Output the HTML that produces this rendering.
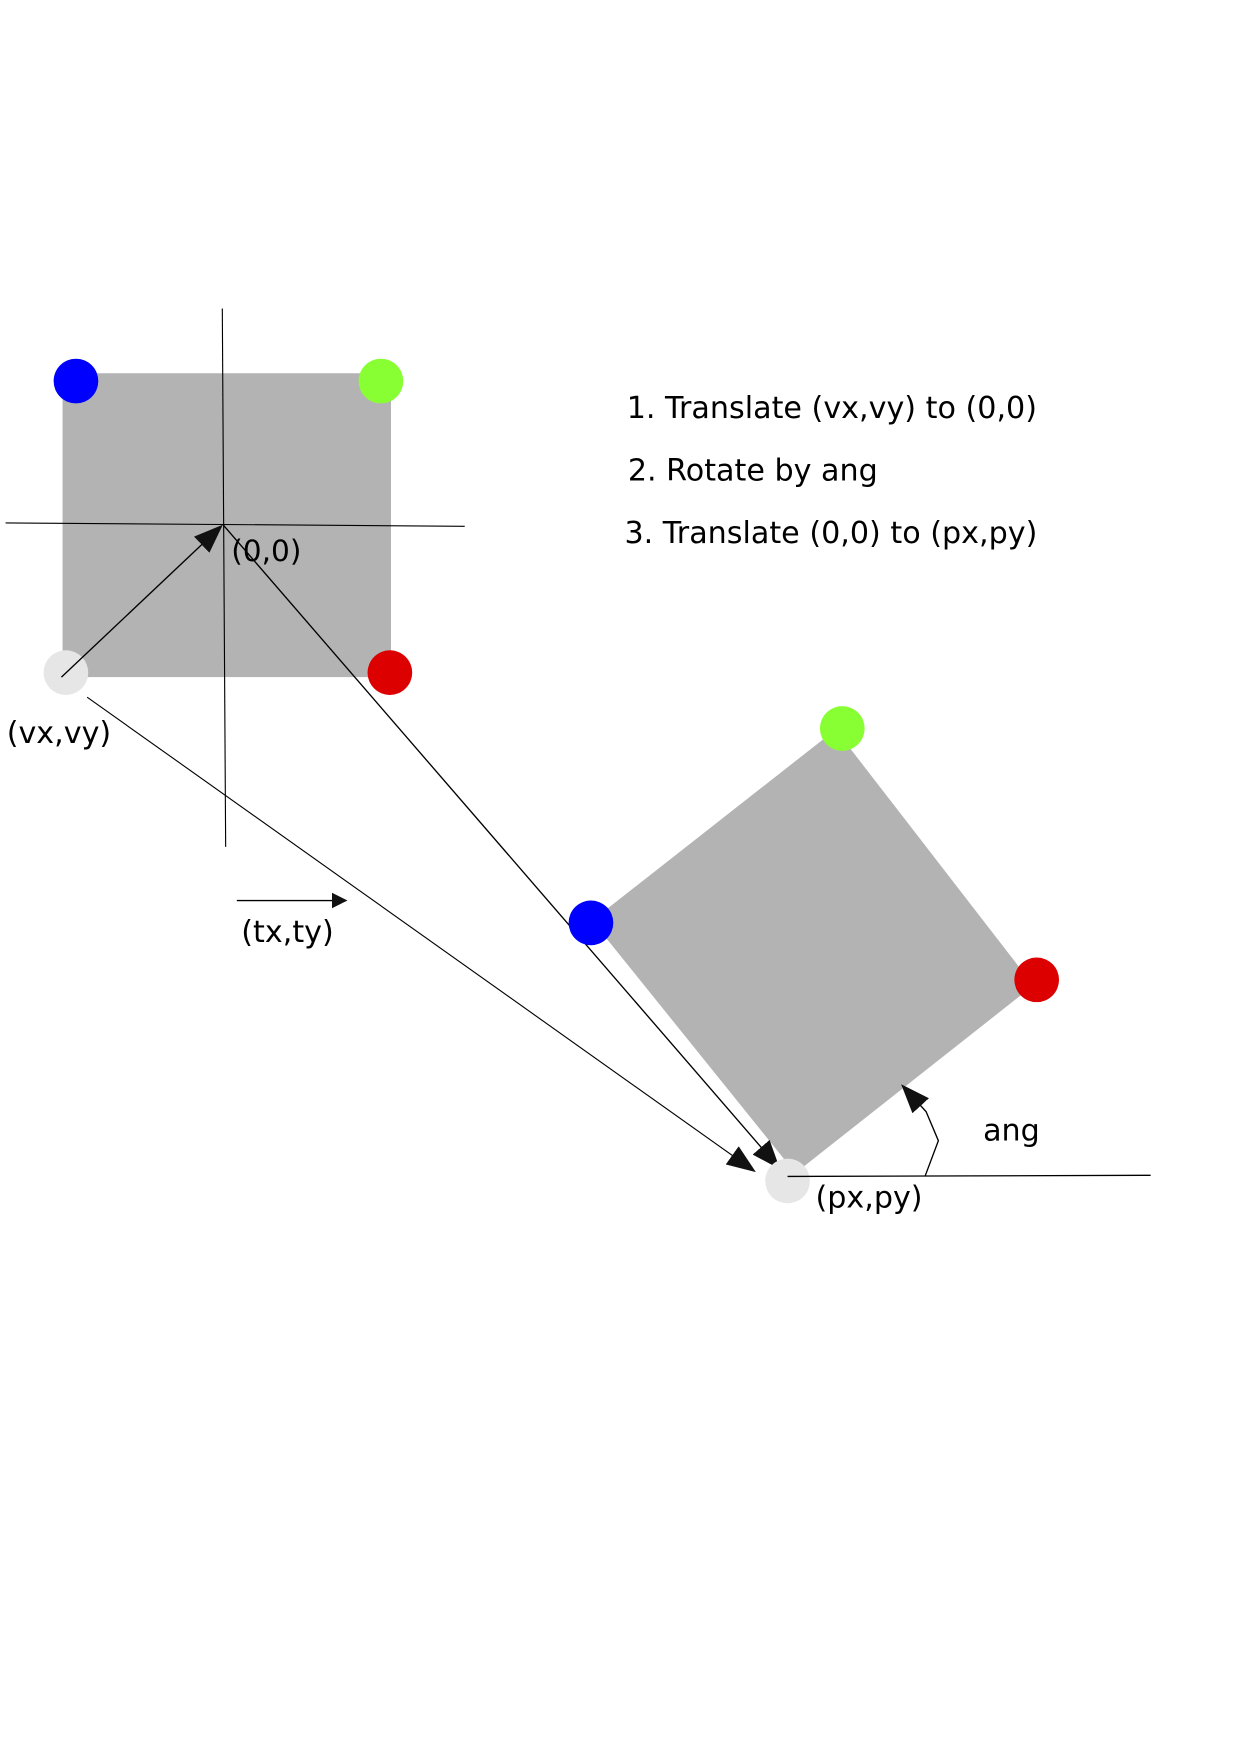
<!DOCTYPE html>
<html><head><meta charset="utf-8"><style>html,body{margin:0;padding:0;background:#fff}svg{display:block}text{font-family:"DejaVu Sans","Liberation Sans",sans-serif;fill:#000}</style></head>
<body>
<svg width="1240" height="1753" viewBox="0 0 1110 1569" xmlns="http://www.w3.org/2000/svg">
<defs>
<marker id="ahb" markerWidth="26" markerHeight="20" refX="24" refY="10" orient="auto" markerUnits="userSpaceOnUse" viewBox="0 0 26 20"><path d="M0,0 L26,10 L0,20 z" fill="#111"/></marker>
<marker id="ahs" markerWidth="14" markerHeight="14" refX="13" refY="7" orient="auto" markerUnits="userSpaceOnUse" viewBox="0 0 14 14"><path d="M0,0 L14,7 L0,14 z" fill="#111"/></marker></defs>
<rect x="56" y="334" width="294" height="272" fill="#b3b3b3"/>
<line x1="199" y1="276" x2="202" y2="758" stroke="#000" stroke-width="1"/>
<line x1="5" y1="468" x2="416" y2="471" stroke="#000" stroke-width="1"/>
<circle cx="68" cy="341" r="20" fill="#0000ff"/>
<circle cx="341" cy="341" r="20" fill="#88ff33"/>
<circle cx="349" cy="602" r="20" fill="#dd0000"/>
<circle cx="59" cy="602" r="20" fill="#e6e6e6"/>
<polygon points="748,653 925,882 712,1050 530,824" fill="#b3b3b3"/>
<line x1="55" y1="606" x2="198" y2="471" stroke="#000" stroke-width="1.2" marker-end="url(#ahb)"/>
<line x1="200" y1="470" x2="697" y2="1045" stroke="#000" stroke-width="1.2" marker-end="url(#ahb)"/>
<line x1="78" y1="624" x2="675" y2="1048" stroke="#000" stroke-width="1" marker-end="url(#ahb)"/>
<line x1="212" y1="806" x2="310" y2="806" stroke="#000" stroke-width="1.2" marker-end="url(#ahs)"/>
<circle cx="529" cy="826" r="20" fill="#0000ff"/>
<circle cx="754" cy="652" r="20" fill="#88ff33"/>
<circle cx="928" cy="877" r="20" fill="#dd0000"/>
<circle cx="705" cy="1057" r="20" fill="#e6e6e6"/>
<line x1="705" y1="1053" x2="1030" y2="1052" stroke="#000" stroke-width="1.2"/>
<polyline points="828,1053 840,1021 829,995 808,972" fill="none" stroke="#000" stroke-width="1.2" marker-end="url(#ahb)"/>
<text x="207" y="502" font-size="26.5">(0,0)</text>
<text x="6" y="665" font-size="27">(vx,vy)</text>
<text x="216" y="843" font-size="27">(tx,ty)</text>
<text x="730" y="1081" font-size="27">(px,py)</text>
<text x="880" y="1021" font-size="27">ang</text>
<text x="561" y="374" font-size="27">1. Translate (vx,vy) to (0,0)</text>
<text x="562" y="430" font-size="27">2. Rotate by ang</text>
<text x="559" y="486" font-size="27">3. Translate (0,0) to (px,py)</text>
</svg>
</body></html>
